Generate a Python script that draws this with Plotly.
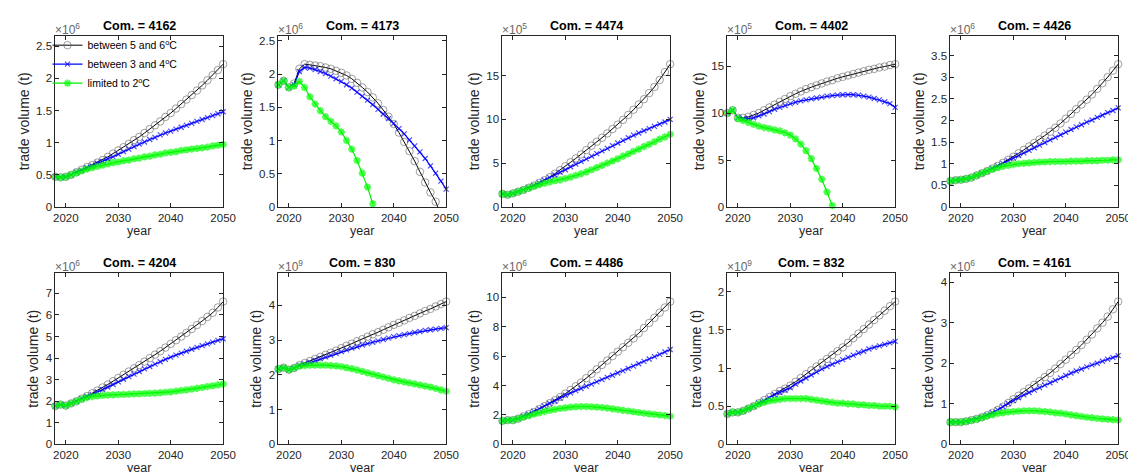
import plotly.graph_objects as go

years = list(range(2018, 2051))

commodities = ["4162", "4173", "4474", "4402", "4426", "4204", "830", "4486", "832", "4161"]
exponents = [6, 6, 5, 5, 6, 6, 9, 6, 9, 6]
ytick_step = [0.5, 0.5, 5, 5, 0.5, 1, 1, 2, 0.5, 1]

series_names = ["between 5 and 6<sup>o</sup>C", "between 3 and 4<sup>o</sup>C", "limited to 2<sup>o</sup>C"]

# values in units of 10^exponent
c4162_hi = [0.47, 0.46, 0.47, 0.50, 0.54, 0.58, 0.62, 0.65, 0.69, 0.73, 0.78, 0.83, 0.88, 0.93, 0.98, 1.04, 1.09,
            1.15, 1.21, 1.27, 1.33, 1.40, 1.46, 1.53, 1.60, 1.67, 1.74, 1.81, 1.89, 1.97, 2.05, 2.13, 2.22]
c4162_mid = [0.47, 0.46, 0.47, 0.50, 0.54, 0.57, 0.61, 0.64, 0.68, 0.71, 0.75, 0.78, 0.82, 0.86, 0.90, 0.94, 0.98,
             1.01, 1.05, 1.08, 1.12, 1.15, 1.18, 1.21, 1.24, 1.27, 1.30, 1.33, 1.36, 1.39, 1.42, 1.45, 1.48]
c4162_low = [0.47, 0.46, 0.47, 0.50, 0.53, 0.56, 0.59, 0.61, 0.63, 0.65, 0.67, 0.69, 0.70, 0.72, 0.73, 0.75, 0.76,
             0.78, 0.79, 0.81, 0.82, 0.84, 0.85, 0.86, 0.88, 0.89, 0.90, 0.91, 0.92, 0.93, 0.95, 0.96, 0.97]

c4173_hi = [1.84, 1.90, 1.80, 1.86, 2.08, 2.15, 2.14, 2.13, 2.12, 2.10, 2.08, 2.05, 2.02, 1.98, 1.93, 1.87, 1.80,
            1.73, 1.65, 1.56, 1.46, 1.36, 1.25, 1.12, 0.98, 0.84, 0.69, 0.53, 0.37, 0.22, 0.08, -0.10, -0.30]
c4173_mid = [1.84, 1.90, 1.80, 1.84, 2.04, 2.10, 2.09, 2.07, 2.04, 2.01, 1.97, 1.93, 1.89, 1.84, 1.79, 1.73, 1.67,
             1.61, 1.54, 1.47, 1.40, 1.33, 1.26, 1.18, 1.10, 1.01, 0.92, 0.83, 0.73, 0.62, 0.51, 0.39, 0.27]
c4173_low = [1.84, 1.90, 1.80, 1.82, 1.89, 1.80, 1.66, 1.55, 1.45, 1.36, 1.29, 1.22, 1.13, 1.00, 0.87, 0.70, 0.51,
             0.30, 0.05, None, None, None, None, None, None, None, None, None, None, None, None, None, None]

c4474_hi = [1.5, 1.4, 1.55, 1.75, 1.95, 2.2, 2.45, 2.75, 3.05, 3.4, 3.8, 4.2, 4.65, 5.1, 5.55, 6.0, 6.5,
            7.0, 7.45, 7.9, 8.4, 8.9, 9.4, 9.95, 10.5, 11.1, 11.7, 12.3, 13.0, 13.7, 14.5, 15.4, 16.3]
c4474_mid = [1.5, 1.4, 1.55, 1.75, 1.95, 2.2, 2.45, 2.75, 3.05, 3.35, 3.65, 3.95, 4.25, 4.6, 4.9, 5.2, 5.5,
             5.8, 6.1, 6.4, 6.7, 7.0, 7.3, 7.6, 7.9, 8.2, 8.45, 8.7, 8.95, 9.2, 9.45, 9.7, 10.0]
c4474_low = [1.5, 1.4, 1.55, 1.75, 1.95, 2.15, 2.35, 2.55, 2.7, 2.85, 3.0, 3.1, 3.25, 3.4, 3.6, 3.8, 4.0,
             4.25, 4.5, 4.75, 5.0, 5.25, 5.5, 5.8, 6.05, 6.35, 6.6, 6.9, 7.15, 7.45, 7.75, 8.0, 8.3]

c4402_hi = [10.0, 10.3, 9.5, 9.5, 9.6, 9.8, 10.0, 10.3, 10.6, 10.9, 11.2, 11.5, 11.8, 12.05, 12.3, 12.55, 12.75,
            12.95, 13.15, 13.35, 13.5, 13.7, 13.85, 14.0, 14.15, 14.3, 14.45, 14.6, 14.7, 14.85, 14.95, 15.1, 15.2]
c4402_mid = [10.0, 10.3, 9.5, 9.4, 9.4, 9.5, 9.7, 9.9, 10.15, 10.4, 10.6, 10.8, 11.0, 11.15, 11.3, 11.4, 11.5,
             11.6, 11.7, 11.8, 11.85, 11.9, 11.95, 11.95, 11.95, 11.9, 11.8, 11.7, 11.55, 11.4, 11.2, 11.0, 10.6]
c4402_low = [10.0, 10.3, 9.4, 9.2, 9.0, 8.8, 8.6, 8.45, 8.35, 8.2, 8.1, 7.9, 7.65, 7.25, 6.7, 6.0, 5.15,
             4.1, 2.95, 1.6, 0.15, None, None, None, None, None, None, None, None, None, None, None, None]

c4426_hi = [0.60, 0.62, 0.63, 0.65, 0.68, 0.73, 0.78, 0.83, 0.89, 0.95, 1.02, 1.09, 1.16, 1.24, 1.32, 1.40, 1.48,
            1.56, 1.65, 1.74, 1.83, 1.93, 2.04, 2.15, 2.26, 2.37, 2.48, 2.60, 2.73, 2.86, 3.00, 3.15, 3.30]
c4426_mid = [0.60, 0.62, 0.63, 0.65, 0.68, 0.73, 0.78, 0.83, 0.89, 0.95, 1.01, 1.07, 1.13, 1.19, 1.25, 1.31, 1.37,
             1.43, 1.49, 1.55, 1.61, 1.67, 1.73, 1.79, 1.85, 1.90, 1.96, 2.01, 2.07, 2.12, 2.18, 2.23, 2.29]
c4426_low = [0.60, 0.62, 0.63, 0.65, 0.68, 0.73, 0.78, 0.83, 0.87, 0.91, 0.94, 0.96, 0.98, 1.00, 1.01, 1.02, 1.03,
             1.04, 1.04, 1.05, 1.05, 1.05, 1.05, 1.06, 1.06, 1.06, 1.07, 1.07, 1.07, 1.08, 1.08, 1.09, 1.09]

c4204_hi = [1.78, 1.85, 1.80, 1.90, 2.00, 2.12, 2.24, 2.37, 2.50, 2.64, 2.78, 2.93, 3.08, 3.23, 3.38, 3.53, 3.68,
            3.84, 4.00, 4.16, 4.32, 4.49, 4.66, 4.83, 5.00, 5.17, 5.35, 5.53, 5.72, 5.91, 6.10, 6.35, 6.62]
c4204_mid = [1.78, 1.85, 1.80, 1.90, 2.00, 2.12, 2.22, 2.32, 2.43, 2.54, 2.66, 2.78, 2.90, 3.02, 3.14, 3.26, 3.38,
             3.50, 3.61, 3.72, 3.83, 3.94, 4.05, 4.14, 4.23, 4.32, 4.41, 4.50, 4.58, 4.66, 4.74, 4.82, 4.90]
c4204_low = [1.78, 1.85, 1.80, 1.90, 2.00, 2.10, 2.17, 2.22, 2.25, 2.27, 2.29, 2.30, 2.31, 2.32, 2.33, 2.34, 2.35,
             2.36, 2.37, 2.38, 2.40, 2.42, 2.44, 2.47, 2.50, 2.53, 2.56, 2.60, 2.64, 2.68, 2.72, 2.76, 2.80]

c830_hi = [2.17, 2.21, 2.15, 2.20, 2.28, 2.34, 2.40, 2.46, 2.52, 2.58, 2.64, 2.70, 2.77, 2.84, 2.90, 2.97, 3.03,
           3.10, 3.17, 3.23, 3.30, 3.37, 3.44, 3.50, 3.57, 3.64, 3.70, 3.77, 3.84, 3.90, 3.97, 4.04, 4.11]
c830_mid = [2.17, 2.21, 2.15, 2.20, 2.27, 2.32, 2.37, 2.42, 2.47, 2.52, 2.57, 2.62, 2.67, 2.72, 2.77, 2.81, 2.86,
            2.90, 2.94, 2.98, 3.02, 3.06, 3.10, 3.13, 3.16, 3.19, 3.22, 3.25, 3.28, 3.30, 3.32, 3.34, 3.36]
c830_low = [2.17, 2.21, 2.15, 2.20, 2.25, 2.27, 2.28, 2.28, 2.28, 2.28, 2.27, 2.26, 2.24, 2.21, 2.18, 2.14, 2.10,
            2.06, 2.02, 1.98, 1.94, 1.90, 1.86, 1.83, 1.80, 1.77, 1.74, 1.71, 1.68, 1.65, 1.61, 1.57, 1.53]

c4486_hi = [1.60, 1.65, 1.65, 1.75, 1.90, 2.05, 2.20, 2.40, 2.60, 2.80, 3.00, 3.22, 3.45, 3.70, 3.95, 4.20, 4.50,
            4.80, 5.10, 5.40, 5.70, 6.00, 6.30, 6.60, 6.90, 7.20, 7.55, 7.90, 8.25, 8.60, 8.95, 9.30, 9.70]
c4486_mid = [1.60, 1.65, 1.65, 1.75, 1.90, 2.05, 2.25, 2.42, 2.60, 2.78, 2.95, 3.15, 3.35, 3.50, 3.65, 3.80, 3.95,
             4.10, 4.25, 4.40, 4.55, 4.70, 4.85, 5.00, 5.16, 5.32, 5.48, 5.64, 5.80, 5.96, 6.12, 6.28, 6.45]
c4486_low = [1.60, 1.65, 1.65, 1.75, 1.85, 1.95, 2.05, 2.14, 2.23, 2.31, 2.38, 2.44, 2.49, 2.53, 2.56, 2.57, 2.57,
             2.56, 2.54, 2.51, 2.47, 2.42, 2.37, 2.32, 2.27, 2.22, 2.17, 2.12, 2.08, 2.04, 2.00, 1.96, 1.92]

c832_hi = [0.40, 0.42, 0.42, 0.44, 0.47, 0.50, 0.54, 0.58, 0.62, 0.66, 0.70, 0.73, 0.77, 0.82, 0.87, 0.92, 0.97,
           1.02, 1.07, 1.12, 1.17, 1.22, 1.27, 1.33, 1.39, 1.45, 1.51, 1.57, 1.63, 1.69, 1.75, 1.81, 1.87]
c832_mid = [0.40, 0.42, 0.42, 0.44, 0.47, 0.50, 0.54, 0.57, 0.61, 0.65, 0.68, 0.71, 0.74, 0.79, 0.83, 0.87, 0.91,
            0.95, 0.99, 1.02, 1.05, 1.08, 1.11, 1.14, 1.17, 1.20, 1.22, 1.25, 1.27, 1.29, 1.31, 1.33, 1.35]
c832_low = [0.40, 0.42, 0.42, 0.44, 0.47, 0.50, 0.53, 0.55, 0.57, 0.58, 0.59, 0.60, 0.60, 0.60, 0.60, 0.60, 0.59,
            0.58, 0.57, 0.56, 0.55, 0.54, 0.54, 0.53, 0.53, 0.52, 0.52, 0.51, 0.51, 0.50, 0.50, 0.50, 0.49]

c4161_hi = [0.55, 0.55, 0.55, 0.57, 0.60, 0.63, 0.67, 0.72, 0.78, 0.85, 0.93, 1.02, 1.11, 1.20, 1.29, 1.38, 1.47,
            1.56, 1.66, 1.76, 1.87, 1.98, 2.09, 2.21, 2.33, 2.45, 2.58, 2.71, 2.86, 3.00, 3.15, 3.33, 3.52]
c4161_mid = [0.55, 0.55, 0.55, 0.57, 0.60, 0.63, 0.67, 0.72, 0.78, 0.85, 0.93, 1.01, 1.08, 1.15, 1.22, 1.28, 1.34,
             1.40, 1.46, 1.52, 1.58, 1.64, 1.70, 1.76, 1.81, 1.86, 1.91, 1.96, 2.00, 2.05, 2.10, 2.14, 2.19]
c4161_low = [0.55, 0.55, 0.55, 0.57, 0.59, 0.62, 0.66, 0.70, 0.73, 0.76, 0.78, 0.80, 0.81, 0.82, 0.83, 0.83, 0.83,
             0.82, 0.81, 0.80, 0.78, 0.77, 0.75, 0.73, 0.71, 0.69, 0.67, 0.66, 0.64, 0.63, 0.62, 0.61, 0.60]

data = [
    (c4162_hi, c4162_mid, c4162_low), (c4173_hi, c4173_mid, c4173_low),
    (c4474_hi, c4474_mid, c4474_low), (c4402_hi, c4402_mid, c4402_low),
    (c4426_hi, c4426_mid, c4426_low), (c4204_hi, c4204_mid, c4204_low),
    (c830_hi, c830_mid, c830_low), (c4486_hi, c4486_mid, c4486_low),
    (c832_hi, c832_mid, c832_low), (c4161_hi, c4161_mid, c4161_low),
]

W, H = 1136, 472
lefts = [46, 272, 499, 727, 953]
ax_w = 170
rows = [(27, 201), (268, 442)]

FONT = "Liberation Sans, Arial, Helvetica, sans-serif"
AXC = "#262626"

styles = [
    dict(line=dict(color="#000000", width=1),
         marker=dict(symbol="circle-open", size=7.5, color="#555555", line=dict(color="#555555", width=0.8))),
    dict(line=dict(color="#0000ff", width=1.2),
         marker=dict(symbol="x-thin-open", size=5, color="#0000ff", line=dict(color="#0000ff", width=1.2))),
    dict(line=dict(color="#00ee00", width=1.2),
         marker=dict(symbol="asterisk-open", size=6, color="#00ff00", line=dict(color="#00ff00", width=2))),
]

fig = go.Figure()
annotations = []

for i, name in enumerate(commodities):
    r, c = divmod(i, 5)
    idx = "" if i == 0 else str(i + 1)
    x0 = lefts[c] / W
    x1 = (lefts[c] + ax_w) / W
    top, bot = rows[r]
    y0 = 1 - bot / H
    y1 = 1 - top / H
    vals = data[i]
    vmax = max(v for s in vals for v in s if v is not None)
    for k, s in enumerate(vals):
        st = styles[k]
        sizes = [st["marker"]["size"] if (v is not None and v >= 0) else 0 for v in s]
        mk = dict(st["marker"])
        mk["size"] = sizes
        fig.add_trace(go.Scatter(
            x=years, y=s, mode="lines+markers", name=series_names[k],
            line=st["line"], marker=mk, cliponaxis=False,
            showlegend=(i == 0), legendgroup=str(k),
            xaxis="x" + idx, yaxis="y" + idx,
        ))
    axis_common = dict(showline=True, linecolor=AXC, linewidth=1, mirror="ticks", ticks="inside",
                       ticklen=4, tickcolor=AXC, showgrid=False, zeroline=False,
                       tickfont=dict(family=FONT, size=11.5, color=AXC))
    fig.update_layout(**{
        "xaxis" + idx: dict(domain=[x0, x1], anchor="y" + idx, range=[2018, 2050],
                             tickvals=[2020, 2030, 2040, 2050],
                             title=dict(text="year", font=dict(family=FONT, size=12.5, color=AXC), standoff=0),
                             **axis_common),
        "yaxis" + idx: dict(domain=[y0, y1], anchor="x" + idx, range=[0, 1.2 * vmax],
                             tick0=0, dtick=ytick_step[i],
                             title=dict(text="trade volume (t)", font=dict(family=FONT, size=14, color=AXC), standoff=3),
                             **axis_common),
    })
    annotations.append(dict(text="<b>Com. = %s</b>" % name, x=(x0 + x1) / 2, y=y1, xref="paper", yref="paper",
                            xanchor="center", yanchor="bottom", yshift=1, showarrow=False,
                            font=dict(family=FONT, size=12.5, color="#000000")))
    annotations.append(dict(text="×10<sup>%d</sup>" % exponents[i], x=x0, y=y1, xref="paper", yref="paper",
                            xanchor="left", yanchor="bottom", xshift=-2, yshift=-3, showarrow=False,
                            font=dict(family=FONT, size=12, color="#666666")))

fig.update_layout(
    width=W, height=H, autosize=False,
    margin=dict(l=0, r=0, t=0, b=0),
    paper_bgcolor="white", plot_bgcolor="white",
    font=dict(family=FONT, size=11, color=AXC),
    annotations=annotations,
    legend=dict(x=38 / W, y=1 - 22 / H, xanchor="left", yanchor="top", bgcolor="rgba(255,255,255,0)",
                font=dict(family=FONT, size=10.5, color="#000000"), itemwidth=30, tracegroupgap=0),
)

fig.write_html("out.html")
